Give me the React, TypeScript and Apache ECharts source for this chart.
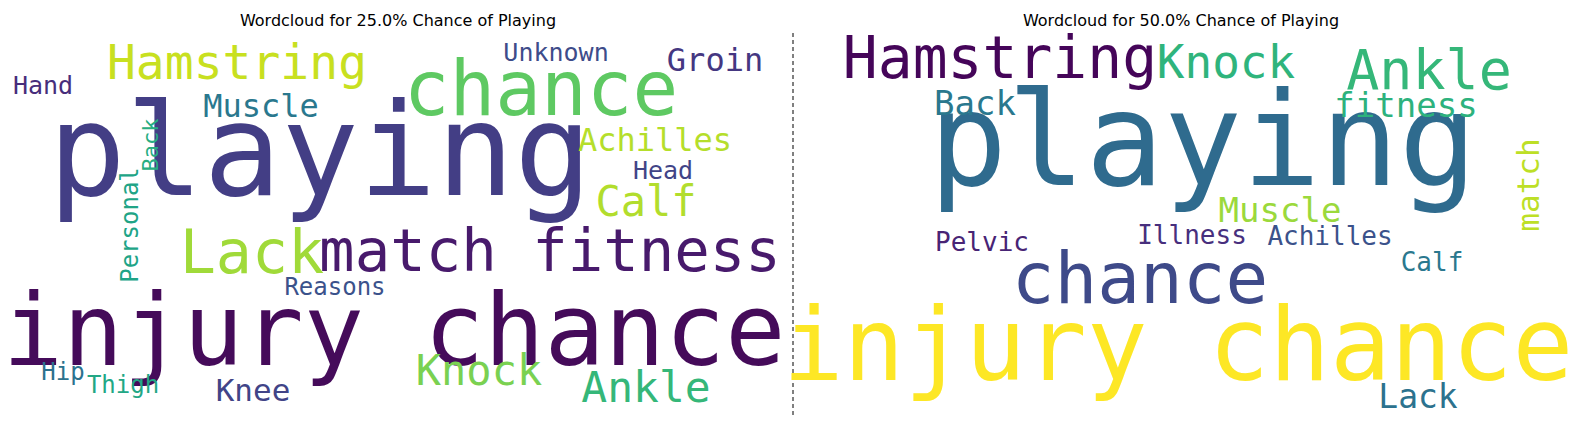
import { useEffect, useRef } from 'react';
import * as echarts from 'echarts';

// left cloud: 25.0% chance of playing
const leftWords = ['playing', 'injury chance', 'chance', 'match fitness', 'Lack', 'Hamstring', 'Groin', 'Unknown', 'Hand', 'Muscle', 'Achilles', 'Head', 'Calf', 'Back', 'Personal', 'Reasons', 'Hip', 'Thigh', 'Knee', 'Knock', 'Ankle'];
const leftX = [320, 394, 541, 550, 252, 237, 715, 556, 43, 261, 655, 663, 646, 150, 130, 335, 63, 123, 253, 479, 646];
const leftY = [150, 330, 88, 250, 252, 62, 60, 52, 85, 106, 140, 170, 201, 145, 225, 287, 372, 385, 390, 370, 387];
const leftSize = [129, 100, 76, 59, 60, 48, 32, 25, 25, 32, 32, 25, 42, 22, 24, 24, 24, 24, 31, 42, 43];
const leftRot = [0, 0, 0, 0, 0, 0, 0, 0, 0, 0, 0, 0, 0, 90, 90, 0, 0, 0, 0, 0, 0];
const leftColor = ['#433e85', '#450b5a', '#5ec962', '#481a6c', '#a0da39', '#c8e020', '#453781', '#3e4c8a', '#472d7b', '#2a788e', '#b5de2b', '#414487', '#b2dd2d', '#27ad81', '#20a486', '#3b528b', '#2c728e', '#22a785', '#414487', '#7ad151', '#35b779'];

// right cloud: 50.0% chance of playing
const rightWords = ['playing', 'injury chance', 'chance', 'Hamstring', 'Knock', 'Ankle', 'Back', 'fitness', 'match', 'Muscle', 'Pelvic', 'Illness', 'Achilles', 'Calf', 'Lack'];
const rightX = [1203, 1178, 1140, 1000, 1226, 1429, 975, 1406, 1528, 1280, 982, 1192, 1330, 1432, 1418];
const rightY = [140, 345, 278, 58, 62, 70, 103, 105, 185, 210, 242, 235, 236, 262, 396];
const rightSize = [130, 101, 71, 58, 46, 55, 34, 34, 31, 34, 26, 26, 26, 26, 33];
const rightRot = [0, 0, 0, 0, 0, 0, 0, 0, 90, 0, 0, 0, 0, 0, 0];
const rightColor = ['#2f6b8e', '#fde725', '#3e4a89', '#450559', '#2fb47c', '#35b779', '#2a788e', '#2db27d', '#bddf26', '#9bd93c', '#482475', '#472f7d', '#3b528b', '#2a788e', '#2c728e'];

const titles = ['Wordcloud for 25.0% Chance of Playing', 'Wordcloud for 50.0% Chance of Playing'];

function toData(words: string[], xs: number[], ys: number[], sizes: number[], rots: number[], colors: string[]) {
  return words.map((w, i) => ({
    name: w,
    value: [xs[i], ys[i]],
    label: { fontSize: sizes[i], rotate: rots[i], color: colors[i] },
  }));
}

export default function App() {
  const chartRef = useRef<HTMLDivElement>(null);

  useEffect(() => {
    document.body.style.margin = '0';
    const chart = echarts.init(chartRef.current!, undefined, { renderer: 'svg' });
    const data = [
      ...toData(leftWords, leftX, leftY, leftSize, leftRot, leftColor),
      ...toData(rightWords, rightX, rightY, rightSize, rightRot, rightColor),
    ];
    chart.setOption({
      animation: false,
      backgroundColor: '#fff',
      title: titles.map((t, i) => ({
        text: t,
        left: i === 0 ? 393 : 1176,
        top: 7,
        textAlign: 'center',
        textStyle: { fontFamily: 'DejaVu Sans', fontSize: 16, fontWeight: 'normal', color: '#000' },
      })),
      grid: { left: 0, right: 0, top: 0, bottom: 0 },
      xAxis: { type: 'value', min: 0, max: 1589, show: false },
      yAxis: { type: 'value', min: 0, max: 431, inverse: true, show: false },
      graphic: [
        {
          type: 'line',
          shape: { x1: 793, y1: 33, x2: 793, y2: 415 },
          style: { stroke: '#000', lineWidth: 1, lineDash: [4, 3] },
        },
      ],
      series: [
        {
          type: 'scatter',
          symbolSize: 0,
          silent: true,
          itemStyle: { opacity: 1 },
          data,
          label: {
            show: true,
            opacity: 1,
            position: 'inside',
            formatter: '{b}',
            fontFamily: 'DejaVu Sans Mono',
            align: 'center',
            verticalAlign: 'middle',
          },
        },
      ],
    });
    return () => chart.dispose();
  }, []);

  return <div ref={chartRef} style={{ width: 1589, height: 431 }} />;
}
